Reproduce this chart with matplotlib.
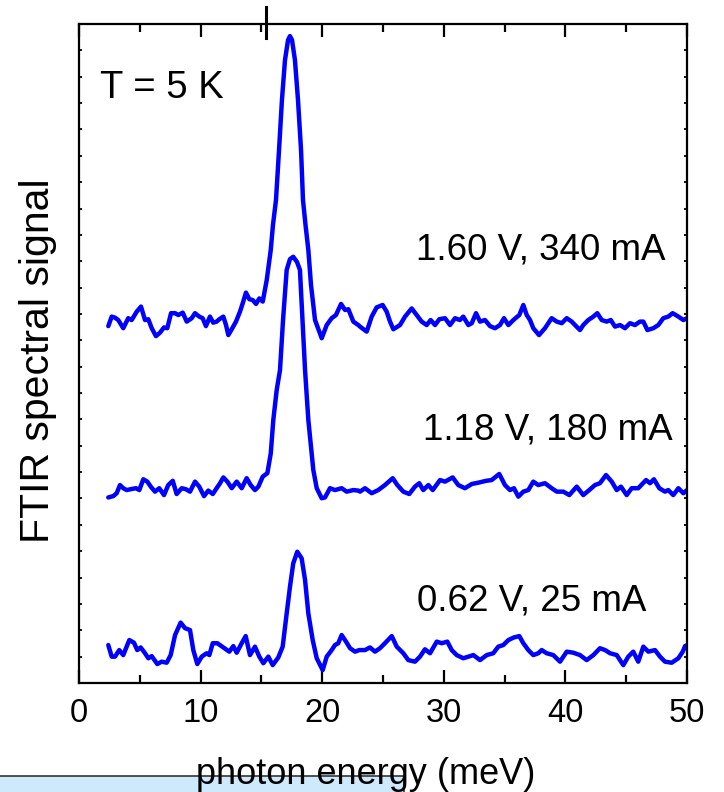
import numpy as np
import matplotlib
matplotlib.use('Agg')
from matplotlib import pyplot as plt
from matplotlib.patches import Rectangle

plt.rcParams['font.family'] = ['Liberation Sans', 'DejaVu Sans']

# photon energy (meV) and FTIR signal (arb. units, traces offset)
e_160 = [2.41, 2.69, 2.96, 3.23, 3.64, 4.05, 4.33, 4.75, 5.10, 5.43, 5.70, 5.98, 6.33, 6.66,
         6.99, 7.26, 7.57, 7.90, 8.17, 8.53, 8.86, 9.27, 9.54, 9.89, 10.17, 10.44, 10.77, 11.04,
         11.32, 11.54, 11.87, 12.09, 12.28, 12.56, 12.91, 13.24, 13.46, 13.73, 14.01, 14.28,
         14.56, 14.83, 15.11, 15.44, 15.77, 15.95, 16.20, 16.45, 16.69, 16.94, 17.19, 17.35,
         17.52, 17.76, 18.01, 18.26, 18.42, 18.63, 18.86, 19.08, 19.41, 19.96, 20.37, 20.78,
         21.13, 21.55, 21.88, 22.15, 22.56, 22.97, 23.11, 23.66, 24.07, 24.48, 24.97, 25.30,
         25.58, 25.85, 26.40, 26.81, 27.36, 27.77, 28.18, 28.59, 28.92, 29.28, 29.63, 30.10,
         30.51, 30.92, 31.33, 31.60, 32.02, 32.30, 32.65, 32.98, 33.39, 33.80, 34.21, 34.62,
         34.95, 35.31, 35.72, 36.21, 36.54, 36.82, 37.09, 37.36, 37.83, 38.32, 38.87, 39.29,
         39.70, 40.11, 40.52, 40.79, 41.20, 41.47, 41.88, 42.30, 42.62, 42.99, 43.40, 43.73,
         44.08, 44.49, 44.90, 45.31, 45.72, 46.13, 46.41, 46.74, 47.23, 47.64, 48.05, 48.46,
         48.82, 49.29, 49.70, 50.00]
s_160 = [13.54, 13.90, 13.86, 13.77, 13.46, 13.84, 13.77, 14.09, 14.28, 13.77, 13.80, 13.46,
         13.16, 13.29, 13.49, 13.46, 14.03, 14.03, 13.96, 14.05, 13.71, 13.84, 14.03, 13.90,
         13.84, 13.54, 13.90, 13.67, 13.71, 13.80, 13.90, 13.58, 13.20, 13.42, 13.71, 14.09,
         14.40, 14.81, 14.56, 14.53, 14.38, 14.59, 14.47, 15.29, 16.43, 17.37, 18.32, 20.22,
         22.12, 23.63, 24.39, 24.54, 24.39, 23.63, 22.12, 20.22, 18.32, 17.37, 16.43, 15.10,
         13.77, 13.08, 13.58, 13.84, 13.96, 14.38, 14.15, 14.18, 13.71, 13.58, 13.52, 13.33,
         13.90, 14.25, 14.34, 14.09, 13.71, 13.42, 13.58, 13.90, 14.21, 13.96, 13.71, 13.58,
         13.77, 13.58, 13.80, 13.84, 13.58, 13.84, 13.77, 13.90, 13.58, 13.65, 14.03, 13.71,
         13.77, 13.54, 13.46, 13.58, 13.84, 13.58, 13.77, 13.96, 14.34, 13.96, 13.77, 13.46,
         13.20, 13.46, 13.84, 13.71, 13.65, 13.84, 13.71, 13.58, 13.39, 13.58, 13.77, 13.90,
         14.03, 13.77, 13.71, 13.77, 13.52, 13.58, 13.46, 13.65, 13.58, 13.71, 13.71, 13.39,
         13.46, 13.58, 13.84, 13.90, 14.03, 13.90, 13.77, 13.84]

e_118 = [2.41, 2.82, 3.10, 3.37, 3.64, 3.92, 4.33, 4.69, 4.96, 5.29, 5.62, 5.90, 6.25, 6.60,
         6.99, 7.34, 7.71, 8.03, 8.45, 8.80, 9.13, 9.54, 9.89, 10.28, 10.63, 11.00, 11.32,
         11.60, 11.87, 12.20, 12.56, 12.97, 13.38, 13.79, 14.12, 14.47, 14.75, 15.11, 15.49,
         15.77, 15.98, 16.26, 16.53, 16.78, 17.08, 17.35, 17.62, 17.93, 18.17, 18.38, 18.59,
         18.86, 19.27, 19.55, 19.96, 20.23, 20.64, 21.05, 21.60, 22.01, 22.56, 22.97, 23.11,
         23.52, 24.07, 24.61, 25.16, 25.80, 26.18, 26.67, 27.16, 27.63, 27.98, 28.31, 28.73,
         29.09, 29.69, 30.10, 30.73, 31.19, 31.74, 32.30, 32.84, 33.47, 33.94, 34.56, 35.03,
         35.44, 35.77, 36.13, 36.54, 36.95, 37.36, 37.77, 38.32, 38.87, 39.29, 39.83, 40.32,
         40.93, 41.47, 41.96, 42.43, 42.84, 43.34, 43.81, 44.22, 44.57, 45.04, 45.45, 45.99,
         46.63, 46.96, 47.28, 47.72, 48.19, 48.46, 48.87, 49.29, 49.70, 50.00]
s_118 = [7.04, 7.09, 7.20, 7.51, 7.39, 7.32, 7.36, 7.39, 7.32, 7.73, 7.64, 7.45, 7.26, 7.39,
         7.13, 7.51, 7.67, 7.17, 7.39, 7.35, 7.26, 7.64, 7.45, 7.09, 7.30, 7.17, 7.39, 7.58,
         7.80, 7.64, 7.39, 7.64, 7.39, 7.77, 7.51, 7.32, 7.45, 7.83, 7.96, 8.71, 9.98, 11.12,
         11.87, 13.77, 15.67, 16.08, 16.17, 15.97, 15.67, 13.77, 11.87, 9.98, 8.08, 7.39, 7.01,
         7.04, 7.39, 7.32, 7.39, 7.26, 7.32, 7.30, 7.26, 7.39, 7.20, 7.32, 7.51, 7.77, 7.51,
         7.26, 7.17, 7.45, 7.58, 7.32, 7.51, 7.32, 7.70, 7.64, 7.80, 7.51, 7.39, 7.55, 7.60,
         7.67, 7.70, 7.93, 7.51, 7.32, 7.39, 7.07, 7.26, 7.32, 7.64, 7.51, 7.58, 7.39, 7.26,
         7.26, 7.13, 7.45, 7.13, 7.32, 7.51, 7.58, 7.89, 7.64, 7.32, 7.45, 7.13, 7.39, 7.39,
         7.70, 7.58, 7.73, 7.39, 7.26, 7.32, 7.13, 7.39, 7.20, 7.32]

e_062 = [2.41, 2.69, 2.96, 3.31, 3.64, 4.14, 4.52, 4.79, 5.07, 5.43, 5.70, 5.98, 6.44, 6.80,
         7.21, 7.54, 7.90, 8.36, 8.72, 9.13, 9.40, 9.73, 10.09, 10.50, 10.72, 11.00, 11.37,
         11.87, 12.36, 12.69, 12.97, 13.38, 13.71, 14.06, 14.47, 14.83, 15.16, 15.57, 15.93,
         16.39, 16.75, 17.08, 17.35, 17.62, 17.95, 18.31, 18.59, 18.86, 19.22, 19.55, 20.04,
         20.37, 20.78, 21.05, 21.32, 21.60, 21.96, 22.29, 22.70, 23.05, 23.52, 23.93, 24.34,
         24.75, 25.16, 25.72, 26.13, 26.67, 27.08, 27.63, 28.04, 28.45, 28.87, 29.42, 29.83,
         30.29, 30.65, 31.06, 31.60, 32.02, 32.43, 32.98, 33.53, 34.07, 34.48, 34.89, 35.31,
         35.77, 36.21, 36.54, 36.95, 37.36, 37.77, 38.05, 38.46, 39.00, 39.56, 40.11, 40.65,
         41.20, 41.75, 42.30, 42.84, 43.26, 43.67, 44.22, 44.76, 45.17, 45.58, 45.99, 46.41,
         46.82, 47.37, 47.78, 48.19, 48.74, 49.29, 49.65, 49.84, 50.00]
s_062 = [1.44, 1.00, 1.00, 1.25, 1.06, 1.63, 1.53, 1.25, 1.35, 1.13, 0.94, 1.02, 0.72, 0.81,
         0.77, 1.06, 1.82, 2.29, 2.08, 2.01, 1.25, 0.72, 1.00, 1.13, 1.06, 1.51, 1.51, 1.35,
         1.19, 1.40, 1.15, 1.51, 1.78, 1.06, 1.38, 1.00, 0.75, 1.00, 0.68, 0.97, 1.38, 2.64,
         3.65, 4.54, 4.98, 4.73, 3.91, 2.64, 1.63, 0.94, 0.49, 1.00, 1.25, 1.44, 1.51, 1.82,
         1.57, 1.32, 1.19, 1.25, 1.25, 1.35, 1.19, 1.32, 1.51, 1.78, 1.38, 1.13, 0.87, 0.81,
         1.00, 1.28, 1.13, 1.57, 1.51, 1.57, 1.25, 1.06, 0.94, 1.00, 1.06, 0.87, 1.06, 1.13,
         1.38, 1.44, 1.63, 1.73, 1.78, 1.51, 1.25, 1.06, 1.13, 1.25, 1.13, 1.06, 0.81, 1.19,
         1.15, 1.06, 0.87, 1.06, 1.32, 1.25, 1.13, 1.06, 0.68, 1.00, 1.19, 0.81, 1.38, 1.19,
         1.25, 1.00, 0.81, 0.77, 0.94, 1.19, 1.40, 1.44]

trace_labels = ['1.60 V, 340 mA', '1.18 V, 180 mA', '0.62 V, 25 mA']
label_pos = [(48.2, 16.05), (48.85, 9.22), (46.7, 2.77)]
marker_energy = 15.35

fig = plt.figure(figsize=(7.24, 7.92), dpi=100)
ax = fig.add_axes([0.1091, 0.1376, 0.8398, 0.8321])

for e, s in [(e_160, s_160), (e_118, s_118), (e_062, s_062)]:
    ax.plot(e, s, color='#0000ff', lw=3.2, solid_joinstyle='round', solid_capstyle='round')

for txt, (x, y) in zip(trace_labels, label_pos):
    ax.text(x, y, txt, ha='right', va='baseline', fontsize=26.5)
ax.text(1.73, 22.19, 'T = 5 K', ha='left', va='baseline', fontsize=27.5)

ax.set_xlim(0, 50)
ax.set_ylim(0, 25)
ax.set_xticks(np.arange(0, 51, 10))
ax.set_xticks(np.arange(5, 50, 10), minor=True)
ax.set_yticks([])
ax.set_yticks(np.arange(0, 26, 1), minor=True)
ax.tick_params(axis='x', which='major', direction='in', length=9.5, width=1.6,
               top=True, labelsize=23.5, pad=11)
ax.tick_params(axis='x', which='minor', direction='in', length=5.5, width=1.6, top=True)
ax.tick_params(axis='y', which='minor', direction='in', length=2.5, width=1.3,
               right=True, labelleft=False)
for sp in ax.spines.values():
    sp.set_linewidth(1.6)

# odd cursor mark crossing the top spine
ax.axvline(marker_energy, ymin=0.979, ymax=1.026, color='black', lw=2.2, clip_on=False)

fig.text(0.0525, 0.545, 'FTIR spectral signal', rotation=90, ha='center', va='center',
         fontsize=29.5)

# light blue strip at the bottom edge
fig.patches.append(Rectangle((-0.01, -0.01), 0.568, 0.0306, transform=fig.transFigure,
                             facecolor='#cde9fb', edgecolor='#333333', lw=1.2, zorder=1))
fig.text(0.5055, 0.0095, 'photon energy (meV)', ha='center', va='baseline', fontsize=26,
         zorder=3)

fig.savefig('out.png', dpi=100)
